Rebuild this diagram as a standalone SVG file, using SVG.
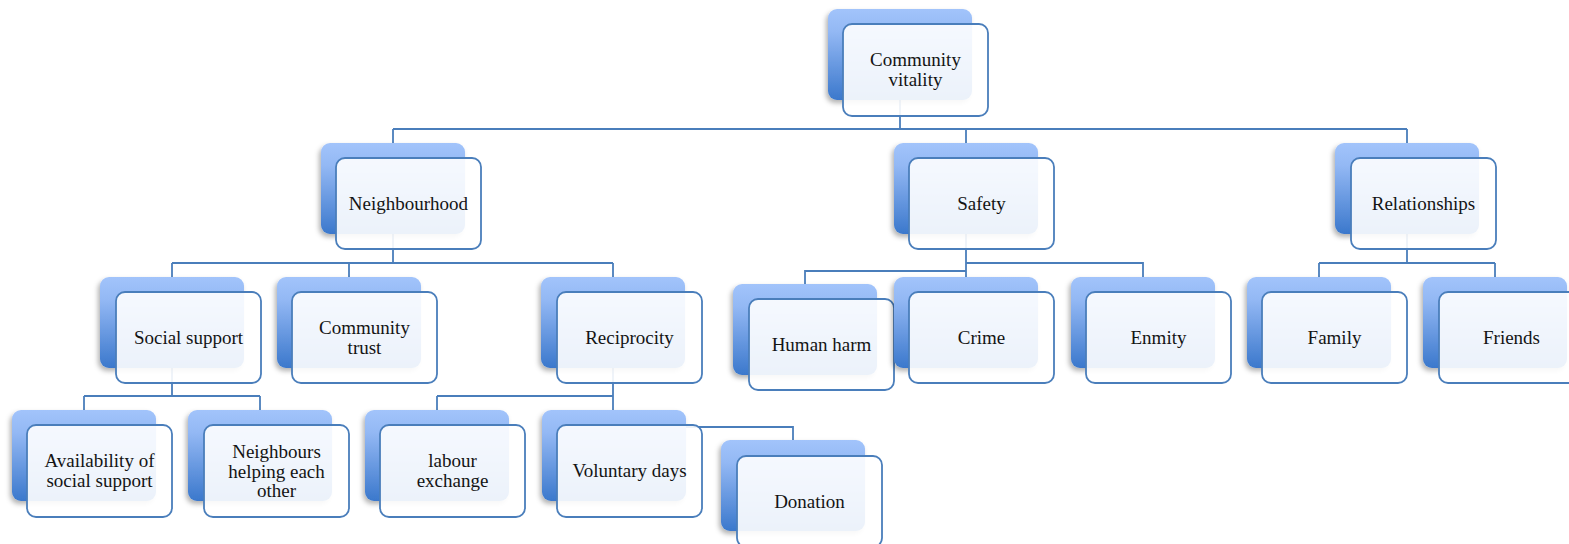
<svg xmlns="http://www.w3.org/2000/svg" width="1569" height="544" viewBox="0 0 1569 544">
<style>
.back{fill:url(#bg);filter:url(#sh)}
.front{fill:#ffffff;fill-opacity:0.9;stroke:#4A7EBB;stroke-width:1.8}
.conn{fill:none;stroke:#4A7EBB;stroke-width:1.8}
text{font-family:"Liberation Serif","Times New Roman",serif;font-size:19px;fill:#141414;text-anchor:middle}
</style>
<defs>
<linearGradient id="bg" x1="0" y1="0" x2="0" y2="1">
<stop offset="0" stop-color="#A2C4FB"/>
<stop offset="0.25" stop-color="#93B8F4"/>
<stop offset="1" stop-color="#3B78CC"/>
</linearGradient>
<filter id="sh" x="-20%" y="-20%" width="140%" height="150%">
<feDropShadow dx="-2" dy="3" stdDeviation="2.5" flood-color="#000" flood-opacity="0.3"/>
</filter>
</defs>
<rect width="1569" height="544" fill="#ffffff"/>
<g id="connectors" class="conn">
<path d="M900,100V129M393,129H1407M393,129V143M966,129V143M1407,129V143"/>
<path d="M393,234V263M172,263H613M172,263V277M349,263V277M613,263V277"/>
<path d="M966,234V277M966,263H1143V277M966,271H805V284"/>
<path d="M1407,234V263M1319,263H1495M1319,263V277M1495,263V277"/>
<path d="M172,367V396M84,396H260M84,396V410M260,396V410"/>
<path d="M613,367V410M437,396H613M437,396V410M613,427H793V440"/>
</g>
<g id="n-community-vitality">
<rect class="back" x="828" y="9" width="144" height="91" rx="9"/>
<rect class="front" x="843" y="24" width="145" height="92" rx="9"/>
<text x="915.5" y="66">Community</text><text x="915.5" y="86">vitality</text>
</g>
<g id="n-neighbourhood">
<rect class="back" x="321" y="143" width="144" height="91" rx="9"/>
<rect class="front" x="336" y="158" width="145" height="91" rx="9"/>
<text x="408.5" y="210">Neighbourhood</text>
</g>
<g id="n-safety">
<rect class="back" x="894" y="143" width="144" height="91" rx="9"/>
<rect class="front" x="909" y="158" width="145" height="91" rx="9"/>
<text x="981.5" y="210">Safety</text>
</g>
<g id="n-relationships">
<rect class="back" x="1335" y="143" width="144" height="91" rx="9"/>
<rect class="front" x="1351" y="158" width="145" height="91" rx="9"/>
<text x="1423.5" y="210">Relationships</text>
</g>
<g id="n-social-support">
<rect class="back" x="100" y="277" width="144" height="91" rx="9"/>
<rect class="front" x="116" y="292" width="145" height="91" rx="9"/>
<text x="188.5" y="344">Social support</text>
</g>
<g id="n-community-trust">
<rect class="back" x="277" y="277" width="144" height="91" rx="9"/>
<rect class="front" x="292" y="292" width="145" height="91" rx="9"/>
<text x="364.5" y="334">Community</text><text x="364.5" y="354">trust</text>
</g>
<g id="n-reciprocity">
<rect class="back" x="541" y="277" width="144" height="91" rx="9"/>
<rect class="front" x="557" y="292" width="145" height="91" rx="9"/>
<text x="629.5" y="344">Reciprocity</text>
</g>
<g id="n-human-harm">
<rect class="back" x="733" y="284" width="144" height="91" rx="9"/>
<rect class="front" x="749" y="299" width="145" height="91" rx="9"/>
<text x="821.5" y="351">Human harm</text>
</g>
<g id="n-crime">
<rect class="back" x="894" y="277" width="144" height="91" rx="9"/>
<rect class="front" x="909" y="292" width="145" height="91" rx="9"/>
<text x="981.5" y="344">Crime</text>
</g>
<g id="n-enmity">
<rect class="back" x="1071" y="277" width="144" height="91" rx="9"/>
<rect class="front" x="1086" y="292" width="145" height="91" rx="9"/>
<text x="1158.5" y="344">Enmity</text>
</g>
<g id="n-family">
<rect class="back" x="1247" y="277" width="144" height="91" rx="9"/>
<rect class="front" x="1262" y="292" width="145" height="91" rx="9"/>
<text x="1334.5" y="344">Family</text>
</g>
<g id="n-friends">
<rect class="back" x="1423" y="277" width="144" height="91" rx="9"/>
<rect class="front" x="1439" y="292" width="145" height="91" rx="9"/>
<text x="1511.5" y="344">Friends</text>
</g>
<g id="n-availability">
<rect class="back" x="12" y="410" width="144" height="91" rx="9"/>
<rect class="front" x="27" y="425" width="145" height="92" rx="9"/>
<text x="99.5" y="467">Availability of</text><text x="99.5" y="487">social support</text>
</g>
<g id="n-neighbours-helping">
<rect class="back" x="188" y="410" width="144" height="91" rx="9"/>
<rect class="front" x="204" y="425" width="145" height="92" rx="9"/>
<text x="276.5" y="458">Neighbours</text><text x="276.5" y="477.5">helping each</text><text x="276.5" y="497">other</text>
</g>
<g id="n-labour-exchange">
<rect class="back" x="365" y="410" width="144" height="91" rx="9"/>
<rect class="front" x="380" y="425" width="145" height="92" rx="9"/>
<text x="452.5" y="467">labour</text><text x="452.5" y="487">exchange</text>
</g>
<g id="n-voluntary-days">
<rect class="back" x="542" y="410" width="144" height="91" rx="9"/>
<rect class="front" x="557" y="425" width="145" height="92" rx="9"/>
<text x="629.5" y="477">Voluntary days</text>
</g>
<g id="n-donation">
<rect class="back" x="721" y="440" width="144" height="91" rx="9"/>
<rect class="front" x="737" y="456" width="145" height="91" rx="9"/>
<text x="809.5" y="508">Donation</text>
</g>
</svg>
